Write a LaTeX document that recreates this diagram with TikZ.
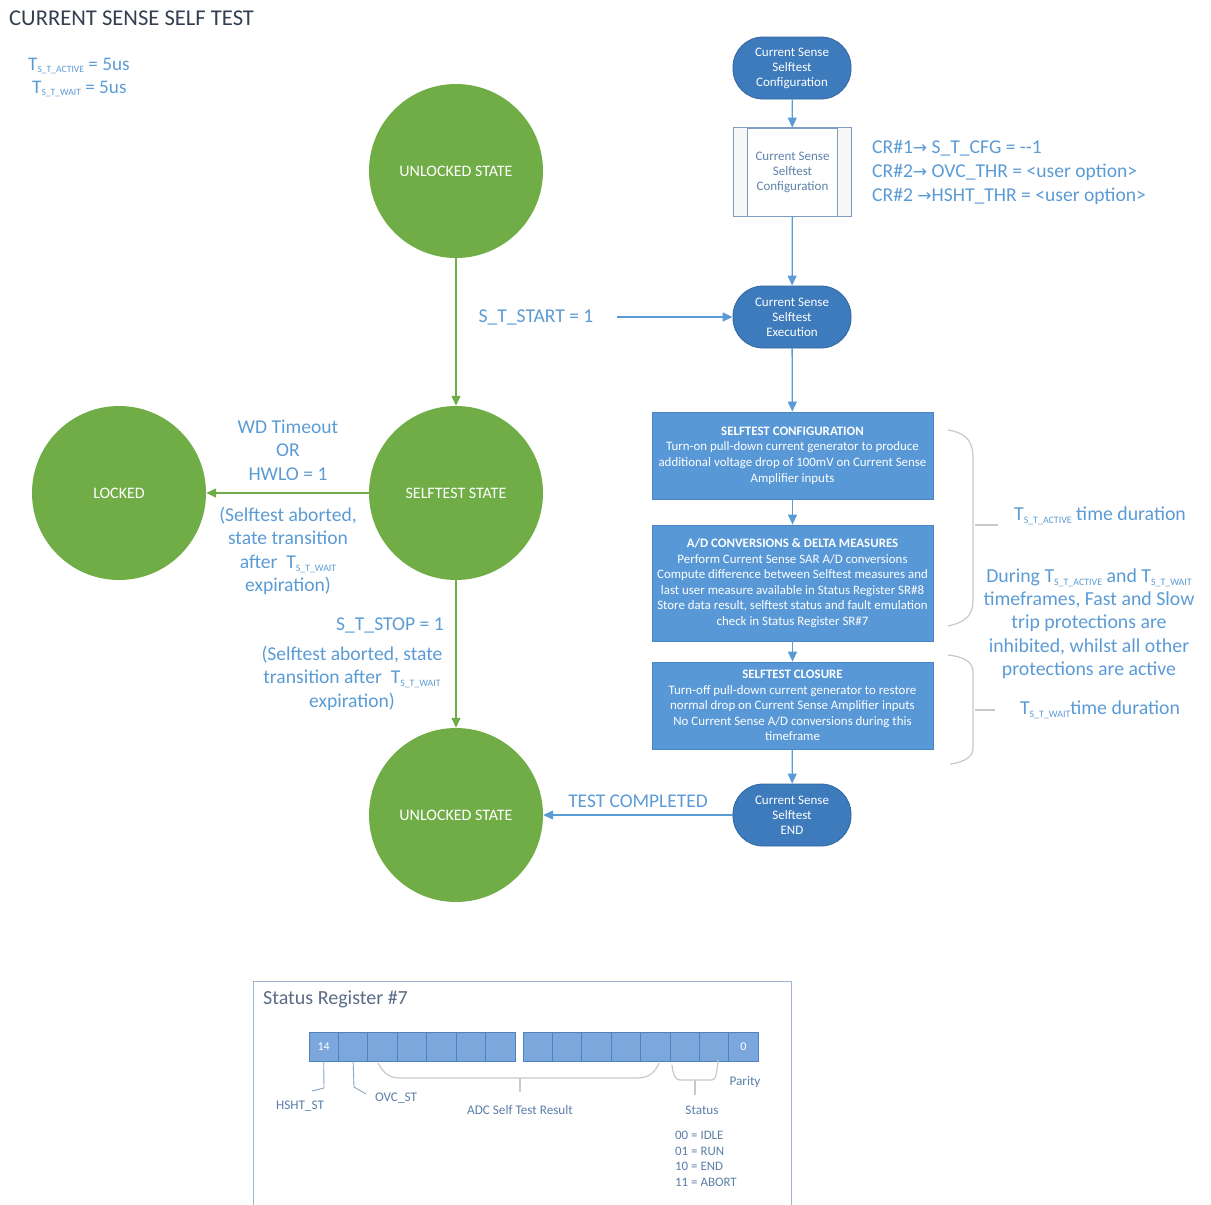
\documentclass[tikz,border=0pt]{standalone}
\usepackage{fontspec}
\setmainfont{Carlito}
\newfontfamily\symf{DejaVu Sans}
\usepackage{graphicx}
\usetikzlibrary{arrows.meta,calc}
\definecolor{cgreen}{HTML}{70AD47}
\definecolor{cterm}{HTML}{3D7BBC}
\definecolor{ctermd}{HTML}{2F669E}
\definecolor{cbox}{HTML}{5898D6}
\definecolor{cboxd}{HTML}{4A86C2}
\definecolor{ctxt}{HTML}{5B9BD5}
\definecolor{ctitle}{HTML}{333F50}
\definecolor{cbrace}{HTML}{C8C8C8}
\definecolor{cproc}{HTML}{7F9CC0}
\definecolor{cproct}{HTML}{5F82AA}
\definecolor{cframe}{HTML}{9FB5D0}
\definecolor{ccell}{HTML}{7BA7DC}
\definecolor{ccelld}{HTML}{4F81BD}
\definecolor{creg}{HTML}{5A7EA8}
\definecolor{cregt}{HTML}{596C84}
\newcommand\Tsub[1]{T\raisebox{-0.3ex}{\scalebox{0.5}{#1}}}
\begin{document}
\begin{tikzpicture}[x=1pt,y=-1pt,
  state/.style={circle,fill=cgreen,minimum size=174pt,inner sep=0pt,text=white,font=\fontsize{16}{18}\selectfont},
  term/.style={rectangle,rounded corners=30pt,fill=cterm,draw=ctermd,line width=0.8pt,minimum width=118pt,minimum height=62pt,text=white,align=center,font=\fontsize{13}{15}\selectfont,inner sep=1pt},
  sbox/.style={rectangle,fill=cbox,draw=cboxd,line width=0.8pt,minimum width=281pt,text=white,align=center,font=\fontsize{12.9}{15.6}\selectfont,inner sep=0pt},
  proc/.style={rectangle,fill=white,draw=cproc,line width=0.8pt,minimum width=117pt,minimum height=88pt,text=cproct,align=center,font=\fontsize{13}{15}\selectfont},
  lbl/.style={text=ctxt,font=\fontsize{19.6}{23.5}\selectfont,align=center,inner sep=0pt},
  rlbl/.style={text=ctxt,font=\fontsize{19.8}{23.3}\selectfont,align=center,inner sep=0pt},
  garrow/.style={draw=cgreen,line width=1.4pt,-{Triangle[length=10pt,width=9pt]}},
  barrow/.style={draw=ctxt,line width=1.3pt,-{Triangle[length=10pt,width=9pt]}},
  bracestyle/.style={draw=cbrace,line width=1.2pt},
  cell/.style={rectangle,fill=ccell,draw=ccelld,line width=0.8pt,minimum width=29.4pt,minimum height=29pt,inner sep=0pt,text=white,font=\fontsize{12}{13}\selectfont},
  reglbl/.style={text=creg,font=\fontsize{13.2}{15.5}\selectfont,inner sep=0pt},
  regline/.style={draw=creg!70,line width=0.9pt},
  regbrace/.style={draw=cbrace,line width=1.2pt}
]
\useasboundingbox (0,0) rectangle (1211,1205);

% title and timings
\node[anchor=west,text=ctitle,font=\fontsize{22.6}{26}\selectfont,inner sep=0pt] (title) at (9,18) {CURRENT SENSE SELF TEST};
\node[anchor=west,text=ctxt,font=\fontsize{19.2}{22}\selectfont,inner sep=0pt] (tact) at (28,66) {\Tsub{S\_T\_ACTIVE} = 5us};
\node[anchor=west,text=ctxt,font=\fontsize{19.2}{22}\selectfont,inner sep=0pt] (twait) at (32,89) {\Tsub{S\_T\_WAIT} = 5us};

% states
\node[state] (unl1) at (456,171) {UNLOCKED STATE};
\node[state] (self) at (456,493) {SELFTEST STATE};
\node[state] (lock) at (119,493) {LOCKED};
\node[state] (unl2) at (456,815) {UNLOCKED STATE};

\draw[garrow] (unl1) -- (self);
\draw[garrow] (self) -- (lock);
\draw[garrow] (self) -- (unl2);

\node[lbl] (wd) at (288,450) {WD Timeout\\OR\\HWLO = 1};
\node[lbl] (ab1) at (288,551) {(Selftest aborted,\\state transition\\after \ \Tsub{S\_T\_WAIT}\\expiration)};
\node[lbl,anchor=east] (stop) at (444,625) {S\_T\_STOP = 1};
\node[lbl] (ab2) at (352,678) {(Selftest aborted, state\\transition after \ \Tsub{S\_T\_WAIT}\\expiration)};

% flow
\node[term] (cfg) at (792,68) {Current Sense\\Selftest\\Configuration};
\node[proc] (pcfg) at (792.5,172) {Current Sense\\Selftest\\Configuration};
\fill[black!3] (pcfg.north west) rectangle ([xshift=14pt]pcfg.south west);
\fill[black!3] ([xshift=-14pt]pcfg.north east) rectangle (pcfg.south east);
\draw[draw=cproc,line width=0.8pt] (pcfg.north west) rectangle (pcfg.south east);
\draw[draw=cproc,line width=0.8pt] ([xshift=14pt]pcfg.north west) -- ([xshift=14pt]pcfg.south west);
\draw[draw=cproc,line width=0.8pt] ([xshift=-14pt]pcfg.north east) -- ([xshift=-14pt]pcfg.south east);
\node[term] (exec) at (792,317) {Current Sense\\Selftest\\Execution};
\node[sbox,minimum height=87pt] (b1) at (792.5,455.5) {\textbf{SELFTEST CONFIGURATION}\\Turn-on pull-down current generator to produce\\additional voltage drop of 100mV on Current Sense\\Amplifier inputs};
\node[sbox,minimum height=116pt] (b2) at (792.5,583) {\textbf{A/D CONVERSIONS \& DELTA MEASURES}\\Perform Current Sense SAR A/D conversions\\Compute difference between Selftest measures and\\last user measure available in Status Register SR\#8\\Store data result, selftest status and fault emulation\\check in Status Register SR\#7};
\node[sbox,minimum height=87pt] (b3) at (792.5,705.5) {\textbf{SELFTEST CLOSURE}\\Turn-off pull-down current generator to restore\\normal drop on Current Sense Amplifier inputs\\No Current Sense A/D conversions during this\\timeframe};
\node[term] (endt) at (792,815) {Current Sense\\Selftest\\END};

\draw[barrow] (cfg) -- (pcfg);
\draw[barrow] (pcfg) -- (exec);
\draw[barrow] (exec) -- (b1);
\draw[barrow] (b1) -- (b2);
\draw[barrow] (b2) -- (b3);
\draw[barrow] (b3) -- (endt);
\draw[barrow] (endt) -- (unl2);

\coordinate (stsrc) at (617,317);
\draw[barrow] (stsrc) -- (exec);
\node[lbl] (start) at (536,317) {S\_T\_START = 1};
\node[lbl,font=\fontsize{19.4}{22}\selectfont] (done) at (638,801) {TEST COMPLETED};

\node[anchor=west,text=ctxt,font=\fontsize{19.6}{24}\selectfont,align=left,inner sep=0pt] (cr) at (872,172) {CR\#1{\symf\fontsize{17}{24}\selectfont →} S\_T\_CFG = -{}-1\\CR\#2{\symf\fontsize{17}{24}\selectfont →} OVC\_THR = <user option>\\CR\#2 {\symf\fontsize{17}{24}\selectfont →}HSHT\_THR = <user option>};

% braces
\draw[bracestyle] (948,430) .. controls (967,433) and (973,442) .. (973,458) -- (973,600) .. controls (973,614) and (967,622) .. (948,626);
\draw[bracestyle] (975,525) -- (998,525);
\draw[bracestyle] (948,655) .. controls (966,657) and (973,663) .. (973,672) -- (973,748) .. controls (973,756) and (966,762) .. (950,764);
\draw[bracestyle] (975,710) -- (995,710);

\node[rlbl] (tactd) at (1100,516) {\Tsub{S\_T\_ACTIVE} time duration};
\node[rlbl] (during) at (1089,623.5) {During \Tsub{S\_T\_ACTIVE} and \Tsub{S\_T\_WAIT}\\timeframes, Fast and Slow\\trip protections are\\inhibited, whilst all other\\protections are active};
\node[rlbl] (twaitd) at (1100,710) {\Tsub{S\_T\_WAIT}time duration};

% status register
\draw[draw=cframe,line width=1pt] (253,1206) -- (253,981) -- (791,981) -- (791,1206);
\node[anchor=west,text=cregt,font=\fontsize{20}{22}\selectfont,inner sep=0pt] (srt) at (263,999) {Status Register \#7};
\foreach \i in {0,...,6} {
  \node[cell] (c\i) at ({323.7+\i*29.43},1046.5) {};
}
\foreach \i in {7,...,14} {
  \node[cell] (c\i) at ({537.7+(\i-7)*29.38},1046.5) {};
}
\node[text=white,font=\fontsize{12}{13}\selectfont] at (c0) {14};
\node[text=white,font=\fontsize{12}{13}\selectfont] at (c14) {0};

\draw[regline] (c0.south) -- (324,1088) -- (312,1091);
\node[reglbl] (hsht) at (300,1106) {HSHT\_ST};
\draw[regline] (c1.south) -- (354,1087) -- (366,1094);
\node[reglbl] (ovc) at (396,1098) {OVC\_ST};
\draw[regbrace] (378,1063) .. controls (384,1074) and (390,1078) .. (400,1078) -- (637,1078) .. controls (648,1078) and (655,1073) .. (659,1063);
\draw[regbrace] (520,1078) -- (520,1092);
\node[reglbl] (adc) at (520,1110) {ADC Self Test Result};
\draw[regbrace] (672,1065) .. controls (673,1074) and (675,1080) .. (680,1080) -- (712,1080) .. controls (716,1080) and (717,1072) .. (718,1060);
\draw[regbrace] (695,1080) -- (695,1095);
\node[reglbl] (stat) at (702,1110) {Status};
\node[reglbl] (par) at (745,1082) {Parity};
\node[reglbl,anchor=north west,align=left,font=\fontsize{12.9}{15.5}\selectfont] (codes) at (675,1131) {00 = IDLE\\01 = RUN\\10 = END\\11 = ABORT};
\end{tikzpicture}
\end{document}
